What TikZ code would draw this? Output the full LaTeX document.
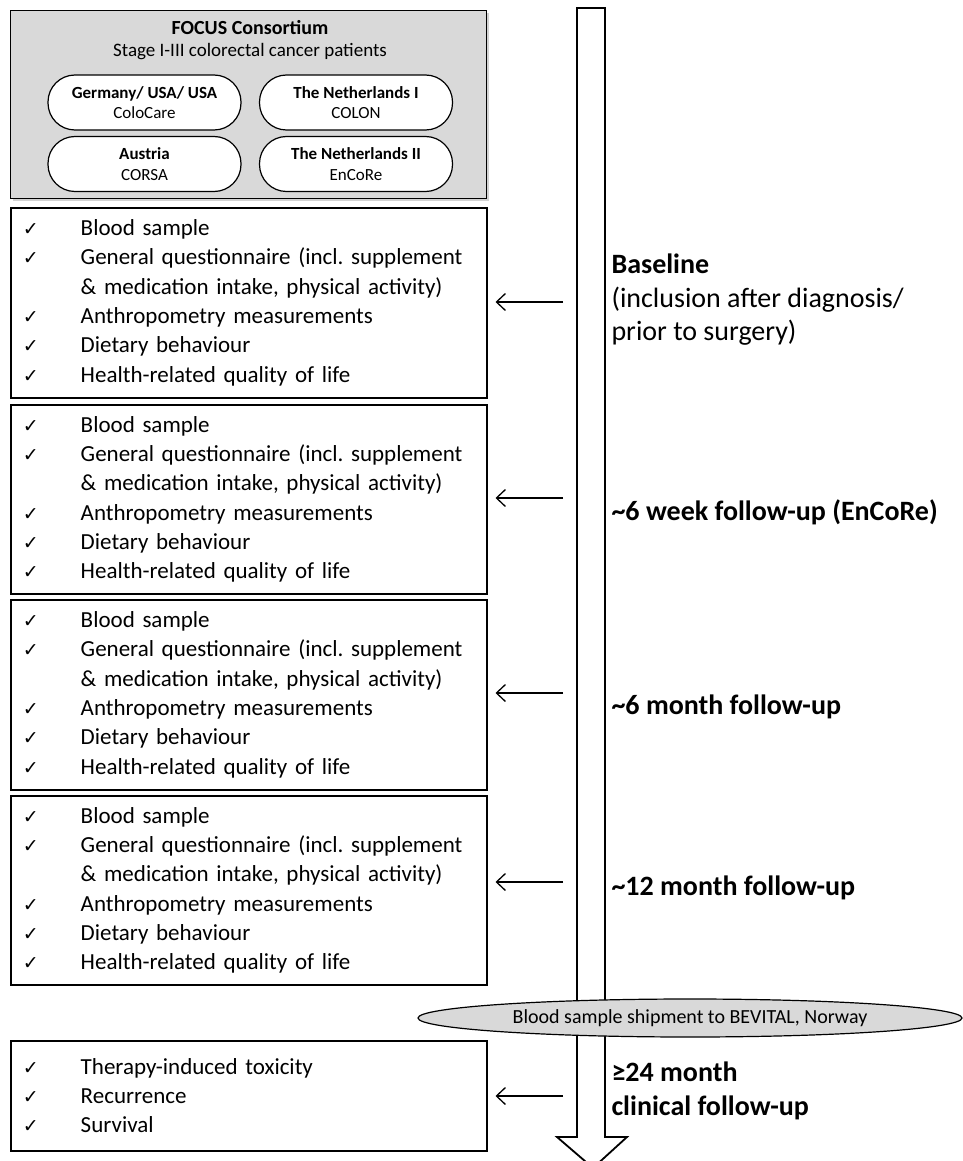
\documentclass[tikz,border=0pt]{standalone}
\usepackage{fontspec}
\setmainfont{Carlito}
\newfontfamily\dejavu{DejaVu Sans}
\usetikzlibrary{shapes.geometric,arrows.meta,shadows}
\definecolor{panelgray}{HTML}{D9D9D9}
\newcommand{\ck}{\makebox[58pt][l]{\dejavu\fontsize{19}{19}\selectfont ✓}}
\newcommand{\ind}{\hspace*{58pt}}
\newcommand{\fullList}{\ck Blood sample\\
\ck General questionnaire (incl. supplement\\
\ind\& medication intake, physical activity)\\
\ck Anthropometry measurements\\
\ck Dietary behaviour\\
\ck Health-related quality of life}
\begin{document}
\frenchspacing
\begin{tikzpicture}[x=1pt,y=-1pt,
  listbox/.style={draw, line width=1.5pt, anchor=north west, minimum width=476pt,
    text width=452pt, inner xsep=12pt, align=left,
    font=\fontsize{23}{29.3}\selectfont},
  pill/.style={draw, fill=white, line width=1.2pt, rounded corners=27pt, minimum width=193pt,
    minimum height=55pt, align=center, font=\fontsize{17}{20.5}\selectfont},
  lbl/.style={anchor=west, align=left, font=\fontsize{28}{33.5}\selectfont},
  arr/.style={line width=1.3pt, -{Straight Barb[length=9pt,width=17pt,line width=1.3pt]}}
]
\useasboundingbox (0,0) rectangle (963,1161);
\clip (0,0) rectangle (963,1161);

% big timeline arrow
\draw[line width=1.8pt, fill=white] (577,8) -- (605,8) -- (605,1137) -- (627,1137)
  -- (593,1168) -- (557,1137) -- (577,1137) -- cycle;

% top panel
\node[draw, line width=1.2pt, fill=panelgray, anchor=north west, minimum width=476pt,
  minimum height=188pt, drop shadow={shadow xshift=2pt, shadow yshift=-2pt, fill=gray!70}]
  (focus) at (10,10) {};
\node[font=\bfseries\fontsize{20}{22}\selectfont] (ftitle) at (250,28) {FOCUS Consortium};
\node[font=\fontsize{19}{22}\selectfont] (fsub) at (250,52) {Stage I-III colorectal cancer patients};
\node[pill] (p1) at (144.5,102.5) {\textbf{Germany/ USA/ USA}\\ColoCare};
\node[pill] (p2) at (356,102.5) {\textbf{The Netherlands I}\\COLON};
\node[pill] (p3) at (144.5,164) {\textbf{Austria}\\CORSA};
\node[pill] (p4) at (356,164) {\textbf{The Netherlands II}\\EnCoRe};

% list boxes
\node[listbox, minimum height=190pt] (b1) at (10,207) {\fullList};
\node[listbox, minimum height=189pt] (b2) at (10,404) {\fullList};
\node[listbox, minimum height=190pt] (b3) at (10,599) {\fullList};
\node[listbox, minimum height=189pt] (b4) at (10,795) {\fullList};
\node[listbox, minimum height=110pt] (b5) at (10,1040) {\ck Therapy-induced toxicity\\
\ck Recurrence\\
\ck Survival};

% ellipse
\node[draw, line width=1.2pt, fill=panelgray, ellipse, minimum width=544pt, minimum height=38pt,
  font=\fontsize{20}{22}\selectfont] (ship) at (690,1018) {Blood sample shipment to BEVITAL, Norway};

% timepoint labels
\node[lbl] (l1) at (608,300) {\textbf{Baseline}\\(inclusion after diagnosis/\\prior to surgery)};
\node[lbl] (l2) at (608,512) {\textbf{\textasciitilde 6 week follow-up (EnCoRe)}};
\node[lbl] (l3) at (608,707) {\textbf{\textasciitilde 6 month follow-up}};
\node[lbl] (l4) at (608,888) {\textbf{\textasciitilde 12 month follow-up}};
\node[lbl] (l5) at (608,1091) {\textbf{≥24 month}\\\textbf{clinical follow-up}};

% arrows
\coordinate (s1) at (563,302);
\coordinate (s2) at (563,498);
\coordinate (s3) at (563,693);
\coordinate (s4) at (563,882);
\coordinate (s5) at (563,1096);
\draw[arr] (s1) -- ([xshift=8pt]b1.east |- s1);
\draw[arr] (s2) -- ([xshift=8pt]b2.east |- s2);
\draw[arr] (s3) -- ([xshift=8pt]b3.east |- s3);
\draw[arr] (s4) -- ([xshift=8pt]b4.east |- s4);
\draw[arr] (s5) -- ([xshift=8pt]b5.east |- s5);
\end{tikzpicture}
\end{document}
